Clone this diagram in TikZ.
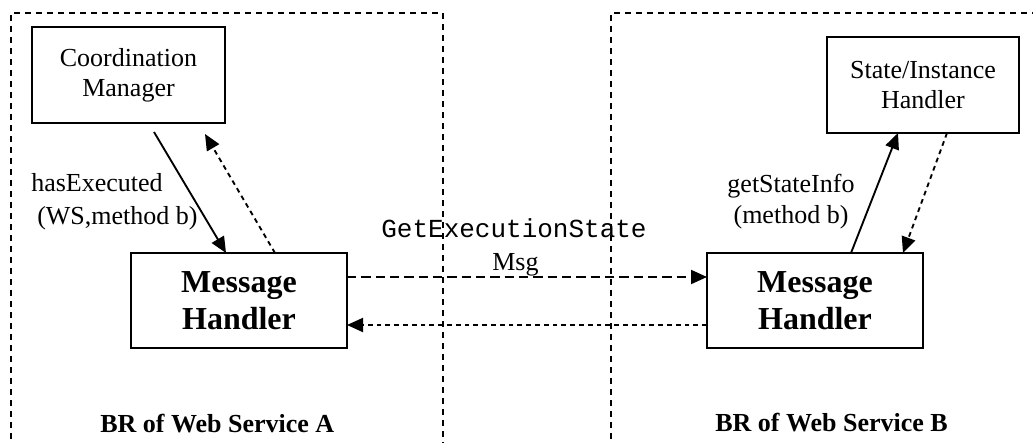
\documentclass[tikz,border=0pt]{standalone}
\usepackage{fontspec}
\setmainfont{Liberation Serif}
\setmonofont{Liberation Mono}
\usetikzlibrary{arrows.meta,calc}

\begin{document}
\begin{tikzpicture}[x=0.75pt,y=-0.75pt,
  frameline/.style={line width=1.25pt,dash pattern=on 4.5pt off 3.75pt},
  compbox/.style={draw,line width=1.5pt,inner sep=0pt,outer sep=0pt,align=center,
    font=\fontsize{19.5pt}{22.5pt}\selectfont},
  handlerbox/.style={draw,line width=1.5pt,inner sep=0pt,outer sep=0pt,align=center,
    minimum width=162pt,minimum height=71.25pt,
    font=\fontsize{24pt}{27.75pt}\selectfont\bfseries},
  lbl/.style={inner sep=0pt,font=\fontsize{19.5pt}{22.5pt}\selectfont},
  ttlbl/.style={inner sep=0pt,font=\fontsize{19.5pt}{22.5pt}\selectfont\ttfamily},
  brlbl/.style={inner sep=0pt,anchor=base west,font=\fontsize{19.5pt}{22.5pt}\selectfont\bfseries},
  tip/.style={-{Triangle[length=12pt,width=10.5pt]}},
  call/.style={tip,line width=1.4pt},
  reply/.style={tip,line width=1.4pt,dash pattern=on 3.6pt off 3pt},
  longdash/.style={tip,line width=1.5pt,dash pattern=on 7pt off 3.75pt}]

\useasboundingbox (0,0) rectangle (1033,443);

% dashed service boundaries
\draw[frameline] (11,450) -- (11,13) -- (443,13) -- (443,450);
\draw[frameline] (611,450) -- (611,13) -- (1040,13);

% components
\node[compbox,minimum width=144.75pt,minimum height=72pt] (cm) at (128.5,75) {Coordination\\Manager};
\node[compbox,minimum width=144pt,minimum height=72pt] (sih) at (923,85) {State/Instance\\Handler};
\node[handlerbox] (mha) at (239,300.5) {Message\\Handler};
\node[handlerbox] (mhb) at (815,300.5) {Message\\Handler};

% free ends near the coordination manager
\coordinate (cmout) at (154,132);
\coordinate (cmin) at (205,134);

% calls inside service A
\draw[call] (cmout) -- ($(mha.north west)+(95,0)$);
\draw[reply] ($(mha.north west)+(144,0)$) -- (cmin);
\node[lbl,anchor=base west] (hx1) at (31,191) {hasExecuted};
\node[lbl,anchor=base west] (hx2) at (37,224) {(WS,method b)};

% calls inside service B
\draw[call] ($(mhb.north west)+(144,0)$) -- ($(sih.south west)+(71,0)$);
\draw[reply] ($(sih.south west)+(120,0)$) -- ($(mhb.north west)+(196,0)$);
\node[lbl,anchor=base] (gs1) at (791,192) {getStateInfo};
\node[lbl,anchor=base] (gs2) at (791,223) {(method b)};

% messages between the handlers
\draw[longdash] ($(mha.north east)+(0,24)$) -- ($(mhb.north west)+(0,24)$);
\draw[reply] ($(mhb.north west)+(0,72)$) -- ($(mha.north east)+(0,72)$);
\node[ttlbl,anchor=base] (msg1) at (514,237) {GetExecutionState};
\node[lbl,anchor=base] (msg2) at (515.5,270) {Msg};

% service captions
\node[brlbl] (bra) at (100,432) {BR of Web Service A};
\node[brlbl] (brb) at (715,431) {BR of Web Service B};
\end{tikzpicture}
\end{document}
